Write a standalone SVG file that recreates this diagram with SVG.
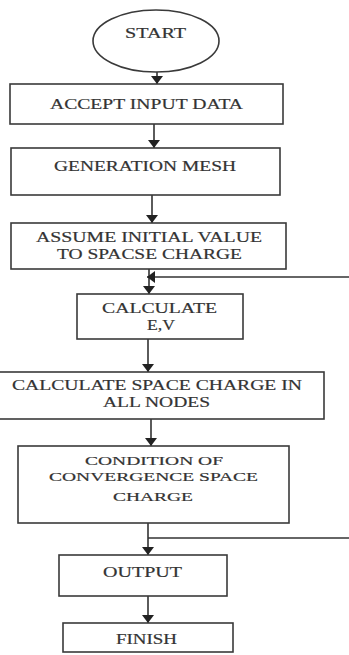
<svg xmlns="http://www.w3.org/2000/svg" width="349" height="655" viewBox="0 0 349 655">
<style>
.box{fill:#fff;stroke:#3a3a3a;stroke-width:1.6}
.t{font-family:"Liberation Serif","Times New Roman",serif;font-size:15px;fill:#333;stroke:#333;stroke-width:0.2}
.s{font-size:13px}
.c{stroke:#333;stroke-width:1.6;fill:none}
</style>
<defs>
<marker id="ah" viewBox="0 0 8 12" refX="8" refY="6" markerWidth="8" markerHeight="12" markerUnits="userSpaceOnUse" orient="auto">
<path d="M0,0 L8,6 L0,12 z" fill="#222"/>
</marker>
</defs>
<rect width="349" height="655" fill="#fff"/>
<g id="connectors">
<line class="c" x1="157" y1="72" x2="157" y2="84" marker-end="url(#ah)"/>
<line class="c" x1="154" y1="124" x2="154" y2="148" marker-end="url(#ah)"/>
<line class="c" x1="152" y1="195" x2="152" y2="223" marker-end="url(#ah)"/>
<line class="c" x1="149" y1="269" x2="149" y2="294" marker-end="url(#ah)"/>
<line class="c" x1="349" y1="277" x2="147" y2="277" marker-end="url(#ah)"/>
<line class="c" x1="148" y1="339" x2="148" y2="372" marker-end="url(#ah)"/>
<line class="c" x1="151" y1="419" x2="151" y2="446" marker-end="url(#ah)"/>
<line class="c" x1="148" y1="523" x2="148" y2="555" marker-end="url(#ah)"/>
<line class="c" x1="148" y1="538" x2="349" y2="538"/>
<line class="c" x1="148" y1="596" x2="148" y2="623" marker-end="url(#ah)"/>
</g>
<g id="start">
<ellipse class="box" cx="156" cy="41" rx="63" ry="31"/>
<text class="t" x="125" y="38" textLength="61" lengthAdjust="spacingAndGlyphs">START</text>
</g>
<g id="accept">
<rect class="box" x="10" y="84" width="273" height="40"/>
<text class="t" x="50" y="109" textLength="193" lengthAdjust="spacingAndGlyphs">ACCEPT INPUT DATA</text>
</g>
<g id="mesh">
<rect class="box" x="11" y="148" width="269" height="47"/>
<text class="t" x="54" y="171" textLength="182" lengthAdjust="spacingAndGlyphs">GENERATION MESH</text>
</g>
<g id="assume">
<rect class="box" x="11" y="223" width="275" height="46"/>
<text class="t" x="36" y="242" textLength="226" lengthAdjust="spacingAndGlyphs">ASSUME INITIAL  VALUE</text>
<text class="t" x="57" y="259" textLength="185" lengthAdjust="spacingAndGlyphs">TO SPACSE CHARGE</text>
</g>
<g id="calcEV">
<rect class="box" x="77" y="294" width="166" height="45"/>
<text class="t" x="102" y="313" textLength="115" lengthAdjust="spacingAndGlyphs">CALCULATE</text>
<text class="t" x="147" y="330" textLength="28" lengthAdjust="spacingAndGlyphs">E,V</text>
</g>
<g id="calcSpace">
<rect class="box" x="-1" y="372" width="325" height="47"/>
<text class="t" x="12" y="390" textLength="290" lengthAdjust="spacingAndGlyphs">CALCULATE SPACE CHARGE IN</text>
<text class="t" x="103" y="407" textLength="107" lengthAdjust="spacingAndGlyphs">ALL NODES</text>
</g>
<g id="condition">
<rect class="box" x="18" y="446" width="271" height="77"/>
<text class="t s" x="85" y="465" textLength="138" lengthAdjust="spacingAndGlyphs">CONDITION OF</text>
<text class="t s" x="49" y="481" textLength="209" lengthAdjust="spacingAndGlyphs">CONVERGENCE SPACE</text>
<text class="t s" x="113" y="501" textLength="80" lengthAdjust="spacingAndGlyphs">CHARGE</text>
</g>
<g id="output">
<rect class="box" x="59" y="555" width="168" height="41"/>
<text class="t" x="103" y="577" textLength="79" lengthAdjust="spacingAndGlyphs">OUTPUT</text>
</g>
<g id="finish">
<rect class="box" x="63" y="623" width="170" height="29"/>
<text class="t" x="116" y="644" textLength="61" lengthAdjust="spacingAndGlyphs">FINISH</text>
</g>
</svg>
